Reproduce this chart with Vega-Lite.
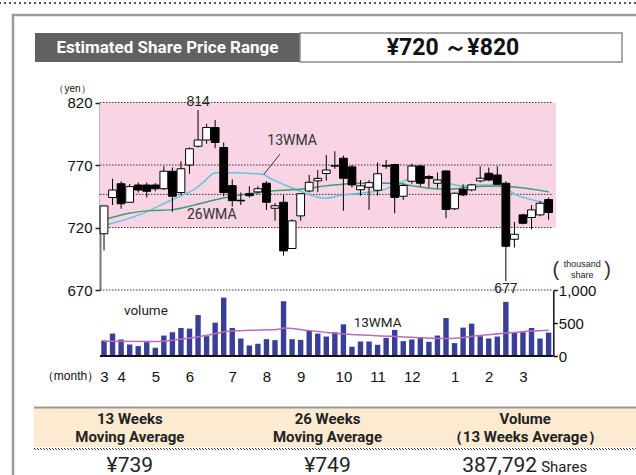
{
  "$schema": "https://vega.github.io/schema/vega-lite/v6.json",
  "width": 636,
  "height": 475,
  "padding": 0,
  "autosize": {"type": "none"},
  "background": "white",
  "config": {"view": {"stroke": null}, "font": "Liberation Sans", "axis": {"grid": false}},
  "datasets": {
    "weeks": [
      {"week":1,"open":715,"high":737.3,"low":701.6,"close":737.3,"volume":235},
      {"week":2,"open":744,"high":759,"low":738,"close":750,"volume":340},
      {"week":3,"open":755,"high":757,"low":735,"close":739,"volume":250},
      {"week":4,"open":740.2,"high":754.8,"low":740.2,"close":752.7,"volume":175},
      {"week":5,"open":754,"high":756,"low":748,"close":750,"volume":150},
      {"week":6,"open":754,"high":756,"low":744,"close":749,"volume":210},
      {"week":7,"open":754,"high":755.5,"low":749,"close":751,"volume":125},
      {"week":8,"open":751,"high":769,"low":750,"close":765,"volume":310},
      {"week":9,"open":765,"high":768,"low":732.5,"close":745,"volume":360},
      {"week":10,"open":748,"high":773,"low":746,"close":767,"volume":425},
      {"week":11,"open":770,"high":784,"low":763,"close":783,"volume":415},
      {"week":12,"open":785,"high":814,"low":784,"close":790,"volume":620},
      {"week":13,"open":790,"high":803,"low":787,"close":800,"volume":300},
      {"week":14,"open":800,"high":806,"low":783.4,"close":788,"volume":505},
      {"week":15,"open":784,"high":788,"low":745,"close":748,"volume":885},
      {"week":16,"open":753.5,"high":758.5,"low":736.7,"close":741.5,"volume":425},
      {"week":17,"open":741.8,"high":748,"low":738,"close":741.3,"volume":265},
      {"week":18,"open":747,"high":753,"low":744,"close":745.5,"volume":160},
      {"week":19,"open":748.5,"high":753,"low":747,"close":751,"volume":185},
      {"week":20,"open":755.4,"high":757,"low":734,"close":740.2,"volume":255},
      {"week":21,"open":735.4,"high":739.5,"low":725.4,"close":737.4,"volume":240},
      {"week":22,"open":740.2,"high":746,"low":697.4,"close":701.3,"volume":830},
      {"week":23,"open":703.2,"high":726.5,"low":703.2,"close":725.3,"volume":255},
      {"week":24,"open":729.3,"high":747,"low":725.4,"close":747,"volume":245},
      {"week":25,"open":749.2,"high":762,"low":748,"close":756.2,"volume":380},
      {"week":26,"open":757.3,"high":766,"low":748.3,"close":759.3,"volume":340},
      {"week":27,"open":763.2,"high":778,"low":757.5,"close":766,"volume":295},
      {"week":28,"open":769.6,"high":781,"low":767,"close":769.1,"volume":360},
      {"week":29,"open":775.4,"high":777.5,"low":733.3,"close":759.4,"volume":480},
      {"week":30,"open":768.5,"high":770,"low":752,"close":754.1,"volume":140},
      {"week":31,"open":750.2,"high":758,"low":745.5,"close":753.3,"volume":220},
      {"week":32,"open":752.2,"high":758,"low":734.1,"close":755.9,"volume":220},
      {"week":33,"open":749.8,"high":772,"low":745.5,"close":763,"volume":170},
      {"week":34,"open":769.6,"high":774,"low":767,"close":769.1,"volume":275},
      {"week":35,"open":770.4,"high":771,"low":731.4,"close":744.1,"volume":395},
      {"week":36,"open":745,"high":755,"low":742.1,"close":753.6,"volume":225},
      {"week":37,"open":757,"high":771,"low":755,"close":769.2,"volume":250},
      {"week":38,"open":769.2,"high":770,"low":753,"close":755.4,"volume":275},
      {"week":39,"open":760.7,"high":762,"low":752,"close":759.4,"volume":215},
      {"week":40,"open":755.4,"high":764,"low":751.4,"close":758,"volume":310},
      {"week":41,"open":765.2,"high":766,"low":727.4,"close":734.4,"volume":575},
      {"week":42,"open":735,"high":748,"low":734,"close":747.4,"volume":195},
      {"week":43,"open":750.6,"high":754.6,"low":745,"close":746.1,"volume":430},
      {"week":44,"open":750.1,"high":755,"low":749,"close":754.1,"volume":490},
      {"week":45,"open":757.3,"high":769,"low":756,"close":759.4,"volume":300},
      {"week":46,"open":763.4,"high":768,"low":757,"close":758,"volume":265},
      {"week":47,"open":762,"high":769,"low":754,"close":754.6,"volume":295},
      {"week":48,"open":755.4,"high":757,"low":677,"close":705,"volume":820},
      {"week":49,"open":710.6,"high":724.5,"low":704,"close":714.6,"volume":360},
      {"week":50,"open":730.1,"high":731,"low":722.5,"close":723.4,"volume":360},
      {"week":51,"open":728,"high":738,"low":718.5,"close":734.1,"volume":425},
      {"week":52,"open":730.1,"high":741.3,"low":729,"close":739.4,"volume":265},
      {"week":53,"open":742.4,"high":744,"low":726.3,"close":732,"volume":355}
    ],
    "ma13": [
      {"week":1,"ma":721.6},{"week":5.1,"ma":730.1},{"week":8.6,"ma":741},{"week":10.3,"ma":746.1},
      {"week":11.6,"ma":750.6},{"week":12.8,"ma":757.3},{"week":14,"ma":763.9},{"week":15.8,"ma":763.9},
      {"week":17.7,"ma":763.4},{"week":19.5,"ma":762.6},{"week":20.8,"ma":758.1},{"week":23.1,"ma":751.4},
      {"week":25.5,"ma":745.3},{"week":26.8,"ma":743.4},{"week":29,"ma":746.1},{"week":30.9,"ma":747.4},
      {"week":33.6,"ma":750.1},{"week":36.4,"ma":758.1},{"week":37.1,"ma":759.9},{"week":38.7,"ma":759.9},
      {"week":40.6,"ma":756.7},{"week":43,"ma":753.3},{"week":44.1,"ma":754.1},{"week":46.9,"ma":754.1},
      {"week":47.6,"ma":752.7},{"week":49.2,"ma":746.1},{"week":50.7,"ma":742.9},{"week":53,"ma":738.9}
    ],
    "ma26": [
      {"week":1,"ma":726.1},{"week":3.9,"ma":731.4},{"week":6.4,"ma":733.5},{"week":9,"ma":734.3},
      {"week":11.6,"ma":738.1},{"week":14.8,"ma":743.4},{"week":17.5,"ma":746.5},{"week":21.2,"ma":749.6},
      {"week":23.9,"ma":750.6},{"week":27,"ma":753.3},{"week":30.9,"ma":755.4},{"week":35.2,"ma":755.4},
      {"week":37.1,"ma":753.3},{"week":39,"ma":751.4},{"week":41.3,"ma":750.6},{"week":43.6,"ma":752.2},
      {"week":46.9,"ma":753.3},{"week":49.2,"ma":752.2},{"week":51.6,"ma":750.1},{"week":53,"ma":748.5}
    ],
    "volma": [
      {"week":1,"ma":225},{"week":7,"ma":220},{"week":9.7,"ma":250},{"week":12.8,"ma":310},
      {"week":15.9,"ma":380},{"week":18.3,"ma":390},{"week":21.2,"ma":400},{"week":22.2,"ma":425},
      {"week":24.9,"ma":385},{"week":27,"ma":358},{"week":30,"ma":325},{"week":34.6,"ma":300},
      {"week":38.5,"ma":275},{"week":41.7,"ma":265},{"week":44.8,"ma":310},{"week":47.5,"ma":340},
      {"week":49.5,"ma":365},{"week":53,"ma":390}
    ]
  },
  "layer": [
    {
      "data": {"values": [{"frame": "page"}]},
      "mark": {"type": "rule", "stroke": "#555", "strokeWidth": 2, "strokeDash": [2, 3]},
      "encoding": {
        "y": {"field": "frame", "type": "nominal", "axis": null, "scale": {"type": "point", "range": [0, 6], "padding": 0.5}}
      }
    },
    {
      "data": {"values": [{"frame": "panel"}]},
      "mark": {"type": "rect", "filled": false, "color": "#9a9a9a", "strokeWidth": 2.5},
      "encoding": {
        "x": {"field": "frame", "type": "nominal", "axis": null, "scale": {"type": "band", "range": [13, 700], "paddingInner": 0, "paddingOuter": 0}},
        "y": {"field": "frame", "type": "nominal", "axis": null, "scale": {"type": "band", "range": [15, 600], "paddingInner": 0, "paddingOuter": 0}}
      }
    },
    {
      "data": {"values": [{"heading": "Estimated Share Price Range"}]},
      "encoding": {
        "x": {"field": "heading", "type": "nominal", "axis": null, "scale": {"type": "band", "range": [35, 300], "paddingInner": 0, "paddingOuter": 0}},
        "y": {"field": "heading", "type": "nominal", "axis": null, "scale": {"type": "band", "range": [33, 62], "paddingInner": 0, "paddingOuter": 0}}
      },
      "layer": [
        {"mark": {"type": "rect", "fill": "#616161"}},
        {"mark": {"type": "text", "fill": "white", "fontWeight": "bold", "fontSize": 17, "font": "Roboto, Liberation Sans, sans-serif"}, "encoding": {"text": {"field": "heading"}}}
      ]
    },
    {
      "data": {"values": [{"range": "¥720 ～¥820"}]},
      "encoding": {
        "x": {"field": "range", "type": "nominal", "axis": null, "scale": {"type": "band", "range": [300, 622], "paddingInner": 0, "paddingOuter": 0}},
        "y": {"field": "range", "type": "nominal", "axis": null, "scale": {"type": "band", "range": [33, 62], "paddingInner": 0, "paddingOuter": 0}}
      },
      "layer": [
        {"mark": {"type": "rect", "fill": "white", "stroke": "#8c8c8c", "strokeWidth": 1.5}},
        {"mark": {"type": "text", "fill": "#111", "fontWeight": "bold", "fontSize": 23, "dx": -8, "font": "Roboto, Liberation Sans, sans-serif"}, "encoding": {"text": {"field": "range"}}}
      ]
    },
    {
      "layer": [
        {
          "layer": [
            {
              "data": {"values": [{"low": 720, "high": 820}]},
              "mark": {"type": "rect", "fill": "#F8D4E4"},
              "encoding": {
                "x": {"datum": 0.532, "type": "quantitative", "scale": {"domain": [1, 53], "range": [104, 548.6], "nice": false, "zero": false, "padding": 0}},
                "x2": {"datum": 53.87},
                "y": {
                  "field": "low", "type": "quantitative",
                  "scale": {"domain": [670, 820], "range": [290, 102.5], "nice": false, "zero": false},
                  "axis": {"orient": "left", "offset": -100, "values": [670, 720, 770, 820], "labelExpr": "format(datum.value, 'd')", "domainColor": "#777", "domainWidth": 2, "tickColor": "#222", "tickSize": 5, "tickWidth": 1.5, "labelFontSize": 15, "labelColor": "#111", "labelPadding": 3, "title": "（yen）", "titleAngle": 0, "titleFontSize": 10, "titleFontWeight": "normal", "titleColor": "#111", "titleX": -28, "titleY": 88, "titleAlign": "center", "titleBaseline": "middle"}
                },
                "y2": {"field": "high"}
              }
            },
            {
              "data": {"values": [{"price": 820}, {"price": 770}, {"price": 746.5}, {"price": 720}, {"price": 670}]},
              "mark": {"type": "rule", "stroke": "#333", "strokeWidth": 1, "strokeDash": [1.5, 1.5]},
              "encoding": {
                "x": {"datum": 0.532, "type": "quantitative"},
                "x2": {"datum": 53.51},
                "y": {"field": "price", "type": "quantitative"}
              }
            },
            {
              "data": {"name": "ma13"},
              "mark": {"type": "line", "stroke": "#62C6DA", "strokeWidth": 1.5, "interpolate": "monotone"},
              "encoding": {
                "x": {"field": "week", "type": "quantitative"},
                "y": {"field": "ma", "type": "quantitative"}
              }
            },
            {
              "data": {"name": "ma26"},
              "mark": {"type": "line", "stroke": "#3D9C72", "strokeWidth": 1.5, "interpolate": "monotone"},
              "encoding": {
                "x": {"field": "week", "type": "quantitative"},
                "y": {"field": "ma", "type": "quantitative"}
              }
            },
            {
              "data": {"name": "weeks"},
              "mark": {"type": "rule", "stroke": "black", "strokeWidth": 1},
              "encoding": {
                "x": {"field": "week", "type": "quantitative"},
                "y": {"field": "low", "type": "quantitative"},
                "y2": {"field": "high"}
              }
            },
            {
              "data": {"name": "weeks"},
              "mark": {"type": "bar", "width": 7.8, "stroke": "black", "strokeWidth": 1},
              "encoding": {
                "x": {"field": "week", "type": "quantitative"},
                "y": {"field": "open", "type": "quantitative"},
                "y2": {"field": "close"},
                "fill": {"condition": {"test": "datum.close > datum.open", "value": "white"}, "value": "black"}
              }
            },
            {
              "data": {"values": [{"week": 21.6, "price": 778.8, "week2": 19.7, "price2": 762.6}]},
              "mark": {"type": "rule", "stroke": "#333", "strokeWidth": 1},
              "encoding": {
                "x": {"field": "week", "type": "quantitative"},
                "x2": {"field": "week2"},
                "y": {"field": "price", "type": "quantitative"},
                "y2": {"field": "price2"}
              }
            },
            {
              "data": {"values": [{"week": 12, "price": 814, "label": "814"}]},
              "mark": {"type": "text", "fontSize": 14, "baseline": "bottom", "dy": -1, "fill": "#222"},
              "encoding": {
                "x": {"field": "week", "type": "quantitative"},
                "y": {"field": "price", "type": "quantitative"},
                "text": {"field": "label"}
              }
            },
            {
              "data": {"values": [{"week": 48, "price": 677, "label": "677"}]},
              "mark": {"type": "text", "fontSize": 14, "baseline": "top", "dy": 1, "fill": "#222"},
              "encoding": {
                "x": {"field": "week", "type": "quantitative"},
                "y": {"field": "price", "type": "quantitative"},
                "text": {"field": "label"}
              }
            },
            {
              "data": {"values": [{"week": 23, "price": 789.2, "label": "13WMA"}, {"week": 13.6, "price": 730.1, "label": "26WMA"}]},
              "mark": {"type": "text", "fontSize": 14, "fill": "#333", "font": "Roboto, Liberation Sans, sans-serif"},
              "encoding": {
                "x": {"field": "week", "type": "quantitative"},
                "y": {"field": "price", "type": "quantitative"},
                "text": {"field": "label"}
              }
            }
          ]
        },
        {
          "layer": [
            {
              "data": {"name": "weeks"},
              "mark": {"type": "bar", "width": 5.4, "fill": "#393E96"},
              "encoding": {
                "x": {
                  "field": "week", "type": "quantitative", "scale": {"domain": [1, 53], "range": [104, 548.6], "nice": false, "zero": false, "padding": 0},
                  "axis": {"orient": "bottom", "offset": -106, "values": [1, 3, 7, 11, 16, 20, 24, 29, 33, 37, 42, 46, 50], "labelExpr": "datum.value==1?'3':datum.value==3?'4':datum.value==7?'5':datum.value==11?'6':datum.value==16?'7':datum.value==20?'8':datum.value==24?'9':datum.value==29?'10':datum.value==33?'11':datum.value==37?'12':datum.value==42?'1':datum.value==46?'2':datum.value==50?'3':''", "domain": false, "ticks": false, "labelPadding": 0, "labelFontSize": 15, "labelColor": "#111", "labelFlush": false, "labelOverlap": false, "title": "（month）", "titleFontSize": 12, "titleFontWeight": "normal", "titleColor": "#111", "titleX": 70, "titleY": 1, "titleBaseline": "top", "titleAlign": "center"}
                },
                "y": {
                  "field": "volume", "type": "quantitative",
                  "scale": {"domain": [0, 1000], "range": [356, 290], "nice": false, "zero": false},
                  "axis": {"orient": "right", "offset": -82.7, "values": [0, 500, 1000], "labelExpr": "format(datum.value, ',')", "domainColor": "#111", "domainWidth": 1.5, "tickColor": "#111", "tickSize": 4, "tickWidth": 1.5, "labelFontSize": 15, "labelColor": "#111", "labelPadding": 1, "title": ["thousand", "share"], "titleAngle": 0, "titleFontSize": 9, "titleFontWeight": "normal", "titleColor": "#222", "titleX": 28.5, "titleY": 259, "titleAlign": "center", "titleBaseline": "top", "titleLineHeight": 11}
                }
              }
            },
            {
              "data": {"name": "volma"},
              "mark": {"type": "line", "stroke": "#B56CC4", "strokeWidth": 1.5, "interpolate": "monotone"},
              "encoding": {
                "x": {"field": "week", "type": "quantitative"},
                "y": {"field": "ma", "type": "quantitative"}
              }
            },
            {
              "data": {"values": [{"volume": 0}]},
              "mark": {"type": "rule", "stroke": "#111", "strokeWidth": 2.2},
              "encoding": {
                "x": {"datum": 0.532, "type": "quantitative"},
                "x2": {"datum": 53.51},
                "y": {"field": "volume", "type": "quantitative"}
              }
            },
            {
              "data": {"values": [{"week": 5.9, "volume": 682, "label": "volume"}, {"week": 33, "volume": 495, "label": "13WMA"}]},
              "mark": {"type": "text", "fontSize": 13.5, "fill": "#222", "font": "Roboto, Liberation Sans, sans-serif"},
              "encoding": {
                "x": {"field": "week", "type": "quantitative"},
                "y": {"field": "volume", "type": "quantitative"},
                "text": {"field": "label"}
              }
            },
            {
              "data": {"values": [{"week": 53.85, "volume": 1305, "label": "("}, {"week": 59.9, "volume": 1305, "label": ")"}]},
              "mark": {"type": "text", "fontSize": 20, "fill": "#333", "font": "Liberation Sans, sans-serif"},
              "encoding": {
                "x": {"field": "week", "type": "quantitative"},
                "y": {"field": "volume", "type": "quantitative"},
                "text": {"field": "label"}
              }
            }
          ]
        }
      ],
      "resolve": {"scale": {"y": "independent"}}
    },
    {
      "data": {"values": [{"table": "summary"}]},
      "mark": {"type": "rect", "fill": "#FCEBD1"},
      "encoding": {
        "x": {"field": "table", "type": "nominal", "axis": null, "scale": {"type": "band", "range": [34, 640], "paddingInner": 0, "paddingOuter": 0}},
        "y": {"field": "table", "type": "nominal", "axis": null, "scale": {"type": "band", "range": [408, 447], "paddingInner": 0, "paddingOuter": 0}}
      }
    },
    {
      "data": {"values": [{"table": "summary"}]},
      "mark": {"type": "rect", "fill": "#9a9a9a"},
      "encoding": {
        "x": {"field": "table", "type": "nominal", "axis": null, "scale": {"type": "band", "range": [34, 640], "paddingInner": 0, "paddingOuter": 0}},
        "y": {"field": "table", "type": "nominal", "axis": null, "scale": {"type": "band", "range": [406.5, 408.5], "paddingInner": 0, "paddingOuter": 0}}
      }
    },
    {
      "data": {"values": [{"col": "13w"}, {"col": "26w"}, {"col": "vol"}]},
      "mark": {"type": "rect", "filled": false, "color": "#333", "strokeWidth": 1, "strokeDash": [1, 2]},
      "encoding": {
        "x": {"field": "col", "type": "nominal", "sort": null, "axis": null, "scale": {"type": "band", "range": [34, 640], "paddingInner": 0.015, "paddingOuter": 0}},
        "y": {"datum": "rule", "type": "nominal", "axis": null, "scale": {"type": "band", "range": [448.5, 449.5], "paddingInner": 0, "paddingOuter": 0}}
      }
    },
    {
      "data": {"values": [
        {"col": "13w", "head": "13 Weeks\nMoving Average", "value": "¥739", "unit": ""},
        {"col": "26w", "head": "26 Weeks\nMoving Average", "value": "¥749", "unit": ""},
        {"col": "vol", "head": "Volume\n（13 Weeks Average）", "value": "387,792", "unit": "Shares"}
      ]},
      "encoding": {
        "x": {"field": "col", "type": "nominal", "sort": null, "axis": null, "scale": {"type": "band", "range": [31, 624], "paddingInner": 0, "paddingOuter": 0}}
      },
      "layer": [
        {
          "mark": {"type": "text", "fontWeight": "bold", "fontSize": 15, "lineBreak": "\n", "lineHeight": 18, "dy": -9, "fill": "#222", "font": "Roboto, Liberation Sans, sans-serif"},
          "encoding": {
            "y": {"datum": "head", "type": "nominal", "axis": null, "scale": {"type": "band", "domain": ["head", "value"], "range": [408, 486], "paddingInner": 0, "paddingOuter": 0}},
            "text": {"field": "head"}
          }
        },
        {
          "transform": [{"filter": "datum.unit == ''"}],
          "mark": {"type": "text", "fontSize": 21, "baseline": "alphabetic", "dy": 5, "fill": "#222", "font": "Roboto, Liberation Sans, sans-serif"},
          "encoding": {
            "y": {"datum": "value", "type": "nominal", "axis": null},
            "text": {"field": "value"}
          }
        },
        {
          "transform": [{"filter": "datum.unit != ''"}],
          "mark": {"type": "text", "fontSize": 21, "baseline": "alphabetic", "dy": 5, "align": "right", "dx": 12, "fill": "#222", "font": "Roboto, Liberation Sans, sans-serif"},
          "encoding": {
            "y": {"datum": "value", "type": "nominal", "axis": null},
            "text": {"field": "value"}
          }
        },
        {
          "transform": [{"filter": "datum.unit != ''"}],
          "mark": {"type": "text", "fontSize": 15, "baseline": "alphabetic", "dy": 5, "align": "left", "dx": 16, "fill": "#222", "font": "Roboto, Liberation Sans, sans-serif"},
          "encoding": {
            "y": {"datum": "value", "type": "nominal", "axis": null},
            "text": {"field": "unit"}
          }
        }
      ]
    }
  ],
  "resolve": {"scale": {"x": "independent", "y": "independent"}}
}
